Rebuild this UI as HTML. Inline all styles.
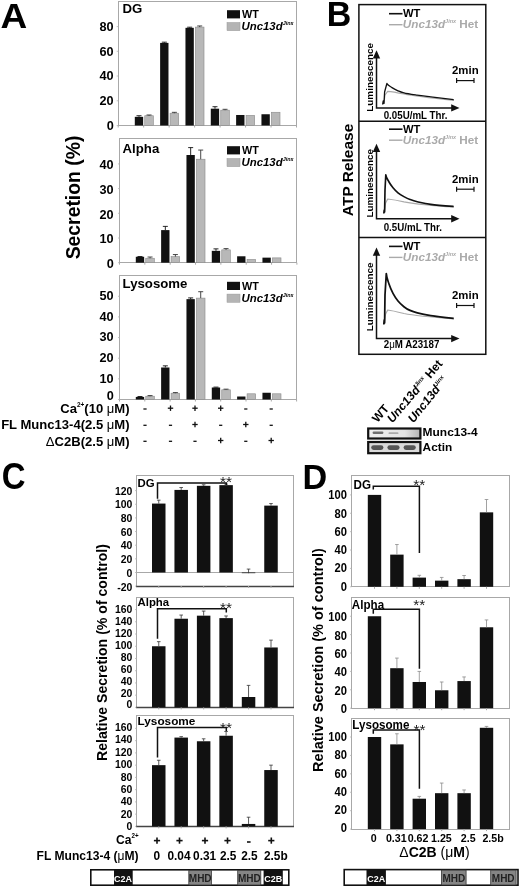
<!DOCTYPE html>
<html><head><meta charset="utf-8"><title>Figure</title>
<style>
html,body{margin:0;padding:0;background:#fff;}
body{width:520px;height:886px;overflow:hidden;font-family:"Liberation Sans",sans-serif;}
svg{display:block;filter:blur(0.45px);}
svg text{font-family:"Liberation Sans",sans-serif;}
</style></head><body>
<svg width="520" height="886" viewBox="0 0 520 886">
<rect width="520" height="886" fill="#fff"/>
<text transform="translate(0.6,28.0) scale(1.04,1)" font-size="35.6" font-weight="bold" text-anchor="start" fill="#000"  >A</text>
<text transform="translate(326.7,25.6) scale(0.95,1)" font-size="35.8" font-weight="bold" text-anchor="start" fill="#000"  >B</text>
<text transform="translate(1.7,488.9) scale(0.885,1)" font-size="37.2" font-weight="bold" text-anchor="start" fill="#000"  >C</text>
<text transform="translate(302.4,488.5) scale(0.97,1)" font-size="35.3" font-weight="bold" text-anchor="start" fill="#000"  >D</text>
<rect x="118.50" y="1.50" width="178.00" height="124.00" fill="none" stroke="#a8a8a8" stroke-width="1"/>
<line x1="116.70" y1="125.50" x2="118.20" y2="125.50" stroke="#b5b5b5" stroke-width="0.8"/>
<text x="113.7" y="129.9" font-size="12.7" font-weight="bold" text-anchor="end" fill="#000"  >0</text>
<line x1="116.70" y1="100.77" x2="118.20" y2="100.77" stroke="#b5b5b5" stroke-width="0.8"/>
<text x="113.7" y="105.17000000000002" font-size="12.7" font-weight="bold" text-anchor="end" fill="#000"  >20</text>
<line x1="116.70" y1="76.04" x2="118.20" y2="76.04" stroke="#b5b5b5" stroke-width="0.8"/>
<text x="113.7" y="80.44000000000001" font-size="12.7" font-weight="bold" text-anchor="end" fill="#000"  >40</text>
<line x1="116.70" y1="51.31" x2="118.20" y2="51.31" stroke="#b5b5b5" stroke-width="0.8"/>
<text x="113.7" y="55.71" font-size="12.7" font-weight="bold" text-anchor="end" fill="#000"  >60</text>
<line x1="116.70" y1="26.58" x2="118.20" y2="26.58" stroke="#b5b5b5" stroke-width="0.8"/>
<text x="113.7" y="30.98000000000001" font-size="12.7" font-weight="bold" text-anchor="end" fill="#000"  >80</text>
<line x1="118.20" y1="125.50" x2="118.20" y2="127.50" stroke="#a8a8a8" stroke-width="1"/>
<line x1="143.67" y1="125.50" x2="143.67" y2="127.50" stroke="#a8a8a8" stroke-width="1"/>
<line x1="169.14" y1="125.50" x2="169.14" y2="127.50" stroke="#a8a8a8" stroke-width="1"/>
<line x1="194.61" y1="125.50" x2="194.61" y2="127.50" stroke="#a8a8a8" stroke-width="1"/>
<line x1="220.09" y1="125.50" x2="220.09" y2="127.50" stroke="#a8a8a8" stroke-width="1"/>
<line x1="245.56" y1="125.50" x2="245.56" y2="127.50" stroke="#a8a8a8" stroke-width="1"/>
<line x1="271.03" y1="125.50" x2="271.03" y2="127.50" stroke="#a8a8a8" stroke-width="1"/>
<line x1="296.50" y1="125.50" x2="296.50" y2="127.50" stroke="#a8a8a8" stroke-width="1"/>
<text x="122.6" y="12.9" font-size="13.2" font-weight="bold" text-anchor="start" fill="#000"  >DG</text>
<rect x="227.00" y="10.20" width="13.00" height="8.20" fill="#111"/>
<text x="242" y="18.0" font-size="10.8" font-weight="bold" text-anchor="start" fill="#000"  >WT</text>
<rect x="227.00" y="22.50" width="13.00" height="8.20" fill="#b4b4b4" stroke="#999" stroke-width="0.5"/>
<text x="241.5" y="30.3" font-size="11.4" font-weight="bold" font-style="italic" fill="#000">Unc13d<tspan font-size="5.4" dy="-5">Jinx</tspan></text>
<rect x="134.80" y="116.84" width="8.35" height="8.66" fill="#111"/>
<line x1="139.00" y1="115.73" x2="139.00" y2="116.84" stroke="#111" stroke-width="0.9"/>
<line x1="136.50" y1="115.73" x2="141.50" y2="115.73" stroke="#111" stroke-width="0.9"/>
<rect x="144.75" y="115.73" width="8.60" height="9.77" fill="#b8b8b8" stroke="#8a8a8a" stroke-width="0.6"/>
<line x1="149.05" y1="114.99" x2="149.05" y2="115.73" stroke="#333" stroke-width="0.9"/>
<line x1="146.55" y1="114.99" x2="151.55" y2="114.99" stroke="#333" stroke-width="0.9"/>
<rect x="160.13" y="42.90" width="8.35" height="82.60" fill="#111"/>
<line x1="164.33" y1="42.16" x2="164.33" y2="42.90" stroke="#111" stroke-width="0.9"/>
<line x1="161.83" y1="42.16" x2="166.83" y2="42.16" stroke="#111" stroke-width="0.9"/>
<rect x="170.08" y="113.20" width="8.60" height="12.30" fill="#b8b8b8" stroke="#8a8a8a" stroke-width="0.6"/>
<line x1="174.38" y1="112.33" x2="174.38" y2="113.20" stroke="#333" stroke-width="0.9"/>
<line x1="171.88" y1="112.33" x2="176.88" y2="112.33" stroke="#333" stroke-width="0.9"/>
<rect x="185.46" y="27.82" width="8.35" height="97.68" fill="#111"/>
<line x1="189.66" y1="27.20" x2="189.66" y2="27.82" stroke="#111" stroke-width="0.9"/>
<line x1="187.16" y1="27.20" x2="192.16" y2="27.20" stroke="#111" stroke-width="0.9"/>
<rect x="195.41" y="27.07" width="8.60" height="98.43" fill="#b8b8b8" stroke="#8a8a8a" stroke-width="0.6"/>
<line x1="199.71" y1="25.96" x2="199.71" y2="27.07" stroke="#333" stroke-width="0.9"/>
<line x1="197.21" y1="25.96" x2="202.21" y2="25.96" stroke="#333" stroke-width="0.9"/>
<rect x="210.79" y="108.68" width="8.35" height="16.82" fill="#111"/>
<line x1="214.99" y1="106.71" x2="214.99" y2="108.68" stroke="#111" stroke-width="0.9"/>
<line x1="212.49" y1="106.71" x2="217.49" y2="106.71" stroke="#111" stroke-width="0.9"/>
<rect x="220.74" y="110.17" width="8.60" height="15.33" fill="#b8b8b8" stroke="#8a8a8a" stroke-width="0.6"/>
<line x1="225.04" y1="109.30" x2="225.04" y2="110.17" stroke="#333" stroke-width="0.9"/>
<line x1="222.54" y1="109.30" x2="227.54" y2="109.30" stroke="#333" stroke-width="0.9"/>
<rect x="236.12" y="114.99" width="8.35" height="10.51" fill="#111"/>
<rect x="246.07" y="115.30" width="8.60" height="10.20" fill="#b8b8b8" stroke="#8a8a8a" stroke-width="0.6"/>
<rect x="261.45" y="114.25" width="8.35" height="11.25" fill="#111"/>
<rect x="271.40" y="112.27" width="8.60" height="13.23" fill="#b8b8b8" stroke="#8a8a8a" stroke-width="0.6"/>
<rect x="119.50" y="138.50" width="177.00" height="124.00" fill="none" stroke="#a8a8a8" stroke-width="1"/>
<line x1="118.00" y1="262.70" x2="119.50" y2="262.70" stroke="#b5b5b5" stroke-width="0.8"/>
<text x="113.7" y="267.99999999999994" font-size="12.7" font-weight="bold" text-anchor="end" fill="#000"  >0</text>
<line x1="118.00" y1="238.00" x2="119.50" y2="238.00" stroke="#b5b5b5" stroke-width="0.8"/>
<text x="113.7" y="243.3" font-size="12.7" font-weight="bold" text-anchor="end" fill="#000"  >10</text>
<line x1="118.00" y1="213.30" x2="119.50" y2="213.30" stroke="#b5b5b5" stroke-width="0.8"/>
<text x="113.7" y="218.6" font-size="12.7" font-weight="bold" text-anchor="end" fill="#000"  >20</text>
<line x1="118.00" y1="188.60" x2="119.50" y2="188.60" stroke="#b5b5b5" stroke-width="0.8"/>
<text x="113.7" y="193.89999999999998" font-size="12.7" font-weight="bold" text-anchor="end" fill="#000"  >30</text>
<line x1="118.00" y1="163.90" x2="119.50" y2="163.90" stroke="#b5b5b5" stroke-width="0.8"/>
<text x="113.7" y="169.2" font-size="12.7" font-weight="bold" text-anchor="end" fill="#000"  >40</text>
<line x1="119.50" y1="262.70" x2="119.50" y2="264.70" stroke="#a8a8a8" stroke-width="1"/>
<line x1="144.84" y1="262.70" x2="144.84" y2="264.70" stroke="#a8a8a8" stroke-width="1"/>
<line x1="170.19" y1="262.70" x2="170.19" y2="264.70" stroke="#a8a8a8" stroke-width="1"/>
<line x1="195.53" y1="262.70" x2="195.53" y2="264.70" stroke="#a8a8a8" stroke-width="1"/>
<line x1="220.87" y1="262.70" x2="220.87" y2="264.70" stroke="#a8a8a8" stroke-width="1"/>
<line x1="246.21" y1="262.70" x2="246.21" y2="264.70" stroke="#a8a8a8" stroke-width="1"/>
<line x1="271.56" y1="262.70" x2="271.56" y2="264.70" stroke="#a8a8a8" stroke-width="1"/>
<line x1="296.90" y1="262.70" x2="296.90" y2="264.70" stroke="#a8a8a8" stroke-width="1"/>
<text x="122.6" y="152.7" font-size="13.2" font-weight="bold" text-anchor="start" fill="#000"  >Alpha</text>
<rect x="227.00" y="146.20" width="13.00" height="8.20" fill="#111"/>
<text x="242" y="154.0" font-size="10.8" font-weight="bold" text-anchor="start" fill="#000"  >WT</text>
<rect x="227.00" y="158.50" width="13.00" height="8.20" fill="#b4b4b4" stroke="#999" stroke-width="0.5"/>
<text x="241.5" y="166.29999999999998" font-size="11.4" font-weight="bold" font-style="italic" fill="#000">Unc13d<tspan font-size="5.4" dy="-5">Jinx</tspan></text>
<rect x="135.80" y="256.77" width="8.35" height="5.93" fill="#111"/>
<line x1="140.00" y1="256.52" x2="140.00" y2="256.77" stroke="#111" stroke-width="0.9"/>
<line x1="137.50" y1="256.52" x2="142.50" y2="256.52" stroke="#111" stroke-width="0.9"/>
<rect x="145.75" y="258.25" width="8.60" height="4.45" fill="#b8b8b8" stroke="#8a8a8a" stroke-width="0.6"/>
<line x1="150.05" y1="257.02" x2="150.05" y2="258.25" stroke="#333" stroke-width="0.9"/>
<line x1="147.55" y1="257.02" x2="152.55" y2="257.02" stroke="#333" stroke-width="0.9"/>
<rect x="161.13" y="230.10" width="8.35" height="32.60" fill="#111"/>
<line x1="165.33" y1="226.39" x2="165.33" y2="230.10" stroke="#111" stroke-width="0.9"/>
<line x1="162.83" y1="226.39" x2="167.83" y2="226.39" stroke="#111" stroke-width="0.9"/>
<rect x="171.08" y="256.65" width="8.60" height="6.05" fill="#b8b8b8" stroke="#8a8a8a" stroke-width="0.6"/>
<line x1="175.38" y1="254.55" x2="175.38" y2="256.65" stroke="#333" stroke-width="0.9"/>
<line x1="172.88" y1="254.55" x2="177.88" y2="254.55" stroke="#333" stroke-width="0.9"/>
<rect x="186.46" y="155.01" width="8.35" height="107.69" fill="#111"/>
<line x1="190.66" y1="147.60" x2="190.66" y2="155.01" stroke="#111" stroke-width="0.9"/>
<line x1="188.16" y1="147.60" x2="193.16" y2="147.60" stroke="#111" stroke-width="0.9"/>
<rect x="196.41" y="159.21" width="8.60" height="103.49" fill="#b8b8b8" stroke="#8a8a8a" stroke-width="0.6"/>
<line x1="200.71" y1="150.07" x2="200.71" y2="159.21" stroke="#333" stroke-width="0.9"/>
<line x1="198.21" y1="150.07" x2="203.21" y2="150.07" stroke="#333" stroke-width="0.9"/>
<rect x="211.79" y="250.84" width="8.35" height="11.86" fill="#111"/>
<line x1="215.99" y1="248.87" x2="215.99" y2="250.84" stroke="#111" stroke-width="0.9"/>
<line x1="213.49" y1="248.87" x2="218.49" y2="248.87" stroke="#111" stroke-width="0.9"/>
<rect x="221.74" y="249.86" width="8.60" height="12.84" fill="#b8b8b8" stroke="#8a8a8a" stroke-width="0.6"/>
<line x1="226.04" y1="248.62" x2="226.04" y2="249.86" stroke="#333" stroke-width="0.9"/>
<line x1="223.54" y1="248.62" x2="228.54" y2="248.62" stroke="#333" stroke-width="0.9"/>
<rect x="237.12" y="256.28" width="8.35" height="6.42" fill="#111"/>
<rect x="247.07" y="259.49" width="8.60" height="3.21" fill="#b8b8b8" stroke="#8a8a8a" stroke-width="0.6"/>
<rect x="262.45" y="257.64" width="8.35" height="5.06" fill="#111"/>
<rect x="272.40" y="257.88" width="8.60" height="4.82" fill="#b8b8b8" stroke="#8a8a8a" stroke-width="0.6"/>
<rect x="119.50" y="275.50" width="177.00" height="124.00" fill="none" stroke="#a8a8a8" stroke-width="1"/>
<line x1="118.00" y1="399.50" x2="119.50" y2="399.50" stroke="#b5b5b5" stroke-width="0.8"/>
<text x="113.7" y="399.79999999999995" font-size="12.7" font-weight="bold" text-anchor="end" fill="#000"  >0</text>
<line x1="118.00" y1="378.85" x2="119.50" y2="378.85" stroke="#b5b5b5" stroke-width="0.8"/>
<text x="113.7" y="382.75" font-size="12.7" font-weight="bold" text-anchor="end" fill="#000"  >10</text>
<line x1="118.00" y1="358.20" x2="119.50" y2="358.20" stroke="#b5b5b5" stroke-width="0.8"/>
<text x="113.7" y="362.09999999999997" font-size="12.7" font-weight="bold" text-anchor="end" fill="#000"  >20</text>
<line x1="118.00" y1="337.55" x2="119.50" y2="337.55" stroke="#b5b5b5" stroke-width="0.8"/>
<text x="113.7" y="341.45" font-size="12.7" font-weight="bold" text-anchor="end" fill="#000"  >30</text>
<line x1="118.00" y1="316.90" x2="119.50" y2="316.90" stroke="#b5b5b5" stroke-width="0.8"/>
<text x="113.7" y="320.79999999999995" font-size="12.7" font-weight="bold" text-anchor="end" fill="#000"  >40</text>
<line x1="118.00" y1="296.25" x2="119.50" y2="296.25" stroke="#b5b5b5" stroke-width="0.8"/>
<text x="113.7" y="300.15" font-size="12.7" font-weight="bold" text-anchor="end" fill="#000"  >50</text>
<line x1="119.50" y1="399.50" x2="119.50" y2="401.50" stroke="#a8a8a8" stroke-width="1"/>
<line x1="144.80" y1="399.50" x2="144.80" y2="401.50" stroke="#a8a8a8" stroke-width="1"/>
<line x1="170.10" y1="399.50" x2="170.10" y2="401.50" stroke="#a8a8a8" stroke-width="1"/>
<line x1="195.40" y1="399.50" x2="195.40" y2="401.50" stroke="#a8a8a8" stroke-width="1"/>
<line x1="220.70" y1="399.50" x2="220.70" y2="401.50" stroke="#a8a8a8" stroke-width="1"/>
<line x1="246.00" y1="399.50" x2="246.00" y2="401.50" stroke="#a8a8a8" stroke-width="1"/>
<line x1="271.30" y1="399.50" x2="271.30" y2="401.50" stroke="#a8a8a8" stroke-width="1"/>
<line x1="296.60" y1="399.50" x2="296.60" y2="401.50" stroke="#a8a8a8" stroke-width="1"/>
<text x="122.6" y="287.7" font-size="13.2" font-weight="bold" text-anchor="start" fill="#000"  >Lysosome</text>
<rect x="227.00" y="281.80" width="13.00" height="8.20" fill="#111"/>
<text x="242" y="289.6" font-size="10.8" font-weight="bold" text-anchor="start" fill="#000"  >WT</text>
<rect x="227.00" y="294.10" width="13.00" height="8.20" fill="#b4b4b4" stroke="#999" stroke-width="0.5"/>
<text x="241.5" y="301.90000000000003" font-size="11.4" font-weight="bold" font-style="italic" fill="#000">Unc13d<tspan font-size="5.4" dy="-5">Jinx</tspan></text>
<rect x="135.80" y="396.92" width="8.35" height="2.58" fill="#111"/>
<line x1="140.00" y1="396.51" x2="140.00" y2="396.92" stroke="#111" stroke-width="0.9"/>
<line x1="137.50" y1="396.51" x2="142.50" y2="396.51" stroke="#111" stroke-width="0.9"/>
<rect x="145.75" y="396.20" width="8.60" height="3.30" fill="#b8b8b8" stroke="#8a8a8a" stroke-width="0.6"/>
<line x1="150.05" y1="395.58" x2="150.05" y2="396.20" stroke="#333" stroke-width="0.9"/>
<line x1="147.55" y1="395.58" x2="152.55" y2="395.58" stroke="#333" stroke-width="0.9"/>
<rect x="161.13" y="367.49" width="8.35" height="32.01" fill="#111"/>
<line x1="165.33" y1="365.84" x2="165.33" y2="367.49" stroke="#111" stroke-width="0.9"/>
<line x1="162.83" y1="365.84" x2="167.83" y2="365.84" stroke="#111" stroke-width="0.9"/>
<rect x="171.08" y="393.20" width="8.60" height="6.30" fill="#b8b8b8" stroke="#8a8a8a" stroke-width="0.6"/>
<line x1="175.38" y1="392.58" x2="175.38" y2="393.20" stroke="#333" stroke-width="0.9"/>
<line x1="172.88" y1="392.58" x2="177.88" y2="392.58" stroke="#333" stroke-width="0.9"/>
<rect x="186.46" y="299.14" width="8.35" height="100.36" fill="#111"/>
<line x1="190.66" y1="297.90" x2="190.66" y2="299.14" stroke="#111" stroke-width="0.9"/>
<line x1="188.16" y1="297.90" x2="193.16" y2="297.90" stroke="#111" stroke-width="0.9"/>
<rect x="196.41" y="298.11" width="8.60" height="101.39" fill="#b8b8b8" stroke="#8a8a8a" stroke-width="0.6"/>
<line x1="200.71" y1="291.71" x2="200.71" y2="298.11" stroke="#333" stroke-width="0.9"/>
<line x1="198.21" y1="291.71" x2="203.21" y2="291.71" stroke="#333" stroke-width="0.9"/>
<rect x="211.79" y="387.52" width="8.35" height="11.98" fill="#111"/>
<line x1="215.99" y1="387.11" x2="215.99" y2="387.52" stroke="#111" stroke-width="0.9"/>
<line x1="213.49" y1="387.11" x2="218.49" y2="387.11" stroke="#111" stroke-width="0.9"/>
<rect x="221.74" y="389.79" width="8.60" height="9.71" fill="#b8b8b8" stroke="#8a8a8a" stroke-width="0.6"/>
<line x1="226.04" y1="389.17" x2="226.04" y2="389.79" stroke="#333" stroke-width="0.9"/>
<line x1="223.54" y1="389.17" x2="228.54" y2="389.17" stroke="#333" stroke-width="0.9"/>
<rect x="237.12" y="396.51" width="8.35" height="2.99" fill="#111"/>
<rect x="247.07" y="393.80" width="8.60" height="5.70" fill="#b8b8b8" stroke="#8a8a8a" stroke-width="0.6"/>
<rect x="262.45" y="392.75" width="8.35" height="6.75" fill="#111"/>
<rect x="272.40" y="393.80" width="8.60" height="5.70" fill="#b8b8b8" stroke="#8a8a8a" stroke-width="0.6"/>
<text transform="translate(79.8,197.5) rotate(-90) scale(0.95,1)" font-size="20.4" font-weight="bold" text-anchor="middle" fill="#000" >Secretion (%)</text>
<text transform="translate(129.6,412.9) scale(0.99,1)" font-size="13.2" font-weight="bold" text-anchor="end" fill="#000"  >Ca<tspan font-size="6.5" dy="-5.5">2+</tspan><tspan dy="5.5">(10 <tspan font-weight="normal">&#956;</tspan>M)</tspan></text>
<text transform="translate(129.6,429.3) scale(0.99,1)" font-size="13.2" font-weight="bold" text-anchor="end" fill="#000"  >FL Munc13-4(2.5 <tspan font-weight="normal">&#956;</tspan>M)</text>
<text transform="translate(129.6,445.8) scale(0.99,1)" font-size="13.2" font-weight="bold" text-anchor="end" fill="#000"  ><tspan font-weight="normal">&#916;</tspan>C2B(2.5 <tspan font-weight="normal">&#956;</tspan>M)</text>
<line x1="143.40" y1="409.00" x2="146.60" y2="409.00" stroke="#111" stroke-width="1.3"/>
<line x1="167.80" y1="408.20" x2="173.20" y2="408.20" stroke="#111" stroke-width="1.3"/>
<line x1="170.50" y1="405.50" x2="170.50" y2="410.90" stroke="#111" stroke-width="1.3"/>
<line x1="192.30" y1="408.20" x2="197.70" y2="408.20" stroke="#111" stroke-width="1.3"/>
<line x1="195.00" y1="405.50" x2="195.00" y2="410.90" stroke="#111" stroke-width="1.3"/>
<line x1="218.00" y1="408.20" x2="223.40" y2="408.20" stroke="#111" stroke-width="1.3"/>
<line x1="220.70" y1="405.50" x2="220.70" y2="410.90" stroke="#111" stroke-width="1.3"/>
<line x1="244.20" y1="409.00" x2="247.40" y2="409.00" stroke="#111" stroke-width="1.3"/>
<line x1="269.60" y1="409.00" x2="272.80" y2="409.00" stroke="#111" stroke-width="1.3"/>
<line x1="143.40" y1="425.30" x2="146.60" y2="425.30" stroke="#111" stroke-width="1.3"/>
<line x1="168.90" y1="425.30" x2="172.10" y2="425.30" stroke="#111" stroke-width="1.3"/>
<line x1="192.30" y1="424.50" x2="197.70" y2="424.50" stroke="#111" stroke-width="1.3"/>
<line x1="195.00" y1="421.80" x2="195.00" y2="427.20" stroke="#111" stroke-width="1.3"/>
<line x1="219.10" y1="425.30" x2="222.30" y2="425.30" stroke="#111" stroke-width="1.3"/>
<line x1="243.10" y1="424.50" x2="248.50" y2="424.50" stroke="#111" stroke-width="1.3"/>
<line x1="245.80" y1="421.80" x2="245.80" y2="427.20" stroke="#111" stroke-width="1.3"/>
<line x1="269.60" y1="425.30" x2="272.80" y2="425.30" stroke="#111" stroke-width="1.3"/>
<line x1="143.40" y1="441.30" x2="146.60" y2="441.30" stroke="#111" stroke-width="1.3"/>
<line x1="168.90" y1="441.30" x2="172.10" y2="441.30" stroke="#111" stroke-width="1.3"/>
<line x1="193.40" y1="441.30" x2="196.60" y2="441.30" stroke="#111" stroke-width="1.3"/>
<line x1="218.00" y1="440.50" x2="223.40" y2="440.50" stroke="#111" stroke-width="1.3"/>
<line x1="220.70" y1="437.80" x2="220.70" y2="443.20" stroke="#111" stroke-width="1.3"/>
<line x1="244.20" y1="441.30" x2="247.40" y2="441.30" stroke="#111" stroke-width="1.3"/>
<line x1="268.50" y1="440.50" x2="273.90" y2="440.50" stroke="#111" stroke-width="1.3"/>
<line x1="271.20" y1="437.80" x2="271.20" y2="443.20" stroke="#111" stroke-width="1.3"/>
<rect x="358.90" y="4.60" width="126.90" height="349.70" fill="none" stroke="#111" stroke-width="1.5"/>
<line x1="358.90" y1="121.20" x2="485.80" y2="121.20" stroke="#111" stroke-width="1.5"/>
<line x1="358.90" y1="237.40" x2="485.80" y2="237.40" stroke="#111" stroke-width="1.5"/>
<text transform="translate(352.9,169.9) rotate(-90) scale(1,1)" font-size="15.5" font-weight="bold" text-anchor="middle" fill="#000" >ATP Release</text>
<line x1="389.00" y1="13.70" x2="402.50" y2="13.70" stroke="#111" stroke-width="1.6"/>
<text transform="translate(403,17.099999999999998) scale(1.04,1)" font-size="10.8" font-weight="bold" text-anchor="start" fill="#000"  >WT</text>
<line x1="389.00" y1="24.70" x2="402.50" y2="24.70" stroke="#aaaaaa" stroke-width="1.4"/>
<text transform="translate(402.8,28.1) scale(1.105,1)" font-size="10.6" font-weight="bold" font-style="italic" fill="#aaaaaa">Unc13d<tspan font-size="5" dy="-5">Jinx</tspan><tspan dy="5" font-style="normal"> Het</tspan></text>
<path d="M376.5 56 V107.9 H453" fill="none" stroke="#111" stroke-width="1.5"/>
<path d="M376.5 50.2 l-3.7 8.3 h7.4 z" fill="#111"/>
<path d="M459.5 107.9 l-8.3 -3.7 v7.4 z" fill="#111"/>
<text transform="translate(372.6,77.4) rotate(-90) scale(1,1)" font-size="9.9" font-weight="bold" text-anchor="middle" fill="#000" >Luminescence</text>
<text transform="translate(383.7,118.5) scale(0.92,1)" font-size="10.6" font-weight="bold" text-anchor="start" fill="#000"  >0.05U/mL Thr.</text>
<text x="465.3" y="74.10000000000001" font-size="11.4" font-weight="bold" text-anchor="middle" fill="#000"  >2min</text>
<line x1="456.60" y1="80.60" x2="474.00" y2="80.60" stroke="#111" stroke-width="1.2"/>
<line x1="456.60" y1="78.10" x2="456.60" y2="83.10" stroke="#111" stroke-width="1.2"/>
<line x1="474.00" y1="78.10" x2="474.00" y2="83.10" stroke="#111" stroke-width="1.2"/>
<path d="M383.5 104 L384.2 101 L385 95 L387.7 91.3 C391 91.5 397 92.5 404 94 C415 96.5 435 98.5 454 100.4" fill="none" stroke="#aaaaaa" stroke-width="1.2" stroke-linejoin="round"/>
<path d="M382.6 104.5 L383.2 101 L384 103.5 L384.6 92 L386.9 83.5 C387.7 85.3 390.2 86.4 392 87.6 C393.8 88.8 395.5 89.7 397.5 90.6 C399.5 91.5 400.6 92.1 403.9 92.9 C407.1 93.7 412.5 94.5 417 95.2 C421.5 95.9 424.7 96.2 430.8 96.9 C436.9 97.6 449.9 99.1 453.7 99.6 " fill="none" stroke="#111" stroke-width="1.3" stroke-linejoin="round"/>
<line x1="389.00" y1="129.20" x2="402.50" y2="129.20" stroke="#111" stroke-width="1.6"/>
<text transform="translate(403,132.6) scale(1.04,1)" font-size="10.8" font-weight="bold" text-anchor="start" fill="#000"  >WT</text>
<line x1="389.00" y1="140.20" x2="402.50" y2="140.20" stroke="#aaaaaa" stroke-width="1.4"/>
<text transform="translate(402.8,143.6) scale(1.105,1)" font-size="10.6" font-weight="bold" font-style="italic" fill="#aaaaaa">Unc13d<tspan font-size="5" dy="-5">Jinx</tspan><tspan dy="5" font-style="normal"> Het</tspan></text>
<path d="M376.5 149.6 V218.7 H453" fill="none" stroke="#111" stroke-width="1.5"/>
<path d="M376.5 143.79999999999998 l-3.7 8.3 h7.4 z" fill="#111"/>
<path d="M459.5 218.7 l-8.3 -3.7 v7.4 z" fill="#111"/>
<text transform="translate(372.6,183.2) rotate(-90) scale(1,1)" font-size="9.9" font-weight="bold" text-anchor="middle" fill="#000" >Luminescence</text>
<text transform="translate(383.7,230.8) scale(0.92,1)" font-size="10.6" font-weight="bold" text-anchor="start" fill="#000"  >0.5U/mL Thr.</text>
<text x="465.3" y="182.70000000000002" font-size="11.4" font-weight="bold" text-anchor="middle" fill="#000"  >2min</text>
<line x1="456.60" y1="189.20" x2="474.00" y2="189.20" stroke="#111" stroke-width="1.2"/>
<line x1="456.60" y1="186.70" x2="456.60" y2="191.70" stroke="#111" stroke-width="1.2"/>
<line x1="474.00" y1="186.70" x2="474.00" y2="191.70" stroke="#111" stroke-width="1.2"/>
<path d="M384.2 213 L384.8 209 L385.6 203 L387.7 199 C392 199.5 398 200.5 404 201.8 C412 203.3 430 205.5 454 207" fill="none" stroke="#aaaaaa" stroke-width="1.2" stroke-linejoin="round"/>
<path d="M383.8 213.5 L384.2 210 L384.6 212 L385 190 L385.8 174.8 C386.3 178.0 387.8 179.8 389 182 C390.2 184.2 391.5 185.9 393 187.7 C394.5 189.5 396.2 191.3 398 192.8 C399.8 194.3 401.9 195.5 403.9 196.6 C405.9 197.7 407.8 198.7 410 199.5 C412.2 200.3 413.8 200.9 417.3 201.7 C420.8 202.5 424.7 203.6 430.8 204.4 C436.9 205.2 449.9 206.2 453.7 206.5 " fill="none" stroke="#111" stroke-width="1.65" stroke-linejoin="round"/>
<line x1="389.00" y1="246.40" x2="402.50" y2="246.40" stroke="#111" stroke-width="1.6"/>
<text transform="translate(403,249.8) scale(1.04,1)" font-size="10.8" font-weight="bold" text-anchor="start" fill="#000"  >WT</text>
<line x1="389.00" y1="257.40" x2="402.50" y2="257.40" stroke="#aaaaaa" stroke-width="1.4"/>
<text transform="translate(402.8,260.8) scale(1.105,1)" font-size="10.6" font-weight="bold" font-style="italic" fill="#aaaaaa">Unc13d<tspan font-size="5" dy="-5">Jinx</tspan><tspan dy="5" font-style="normal"> Het</tspan></text>
<path d="M376.5 253.2 V338.6 H453" fill="none" stroke="#111" stroke-width="1.5"/>
<path d="M376.5 247.39999999999998 l-3.7 8.3 h7.4 z" fill="#111"/>
<path d="M459.5 338.6 l-8.3 -3.7 v7.4 z" fill="#111"/>
<text transform="translate(372.6,296.9) rotate(-90) scale(1,1)" font-size="9.9" font-weight="bold" text-anchor="middle" fill="#000" >Luminescence</text>
<text transform="translate(383.7,347.9) scale(0.92,1)" font-size="10.6" font-weight="bold" text-anchor="start" fill="#000"  >2<tspan font-weight="normal">&#956;</tspan>M A23187</text>
<text x="465.3" y="299.0" font-size="11.4" font-weight="bold" text-anchor="middle" fill="#000"  >2min</text>
<line x1="456.60" y1="305.50" x2="474.00" y2="305.50" stroke="#111" stroke-width="1.2"/>
<line x1="456.60" y1="303.00" x2="456.60" y2="308.00" stroke="#111" stroke-width="1.2"/>
<line x1="474.00" y1="303.00" x2="474.00" y2="308.00" stroke="#111" stroke-width="1.2"/>
<path d="M384.2 324 L384.8 320 L385.6 314 L387.7 310 C392 310.5 398 312 404 313.5 C412 315.2 428 317 454 318.8" fill="none" stroke="#aaaaaa" stroke-width="1.2" stroke-linejoin="round"/>
<path d="M383.8 324.5 L384.2 320 L384.6 323 L385 295 L386.3 273.6 C386.7 278.3 387.9 280.7 389 284 C390.1 287.3 391.5 290.5 393 293.3 C394.5 296.1 396.2 298.8 398 301 C399.8 303.2 401.9 305.1 403.9 306.7 C405.9 308.3 407.8 309.4 410 310.4 C412.2 311.4 413.8 312.0 417.3 312.9 C420.8 313.8 424.7 314.7 430.8 315.6 C436.9 316.5 449.9 317.9 453.7 318.3 " fill="none" stroke="#111" stroke-width="1.75" stroke-linejoin="round"/>
<text transform="translate(377.6,423.2) rotate(-50)" font-size="12" font-weight="bold">WT</text>
<text transform="translate(392.4,423.6) rotate(-49.6)" font-size="12.1" font-weight="bold"><tspan font-style="italic">Unc13d<tspan font-size="5.8" dy="-5">Jinx</tspan></tspan><tspan dy="5"> Het</tspan></text>
<text transform="translate(413.4,423.6) rotate(-51.3)" font-size="12.1" font-weight="bold"><tspan font-style="italic">Unc13d<tspan font-size="5.8" dy="-5">Jinx</tspan></tspan></text>
<defs><linearGradient id="bg1" x1="0" x2="1" y1="0" y2="0"><stop offset="0" stop-color="#ededed"/><stop offset="0.7" stop-color="#e4e4e4"/><stop offset="1" stop-color="#b4b4b4"/></linearGradient></defs>
<rect x="368.20" y="428.50" width="52.20" height="10.00" fill="url(#bg1)" stroke="#111" stroke-width="2.2"/>
<rect x="372.6" y="431.6" width="10.8" height="2.4" rx="1.2" fill="#6e6e6e"/>
<rect x="388.5" y="432.3" width="10" height="1.8" rx="0.9" fill="#aaaaaa"/>
<rect x="368.20" y="442.00" width="52.20" height="11.20" fill="#dadada" stroke="#111" stroke-width="2.2"/>
<rect x="371.2" y="445.2" width="12.2" height="4.8" rx="2.4" fill="#555"/>
<rect x="387.4" y="445.2" width="12.2" height="4.8" rx="2.4" fill="#555"/>
<rect x="403.6" y="445.2" width="12.2" height="4.8" rx="2.4" fill="#555"/>
<text transform="translate(422.6,436.2) scale(1.03,1)" font-size="11.6" font-weight="bold" text-anchor="start" fill="#000"  >Munc13-4</text>
<text transform="translate(422.6,451) scale(1.02,1)" font-size="11.6" font-weight="bold" text-anchor="start" fill="#000"  >Actin</text>
<rect x="136.50" y="475.50" width="157.00" height="111.00" fill="none" stroke="#a8a8a8" stroke-width="1"/>
<line x1="136.00" y1="586.50" x2="294.00" y2="586.50" stroke="#444" stroke-width="1.3"/>
<line x1="136.50" y1="572.50" x2="293.00" y2="572.50" stroke="#a8a8a8" stroke-width="1"/>
<line x1="135.00" y1="586.15" x2="136.50" y2="586.15" stroke="#b5b5b5" stroke-width="0.8"/>
<text transform="translate(132.4,590.662) scale(0.93,1)" font-size="11.2" font-weight="bold" text-anchor="end" fill="#000"  >-20</text>
<line x1="135.00" y1="572.50" x2="136.50" y2="572.50" stroke="#b5b5b5" stroke-width="0.8"/>
<text transform="translate(132.4,576.932) scale(0.93,1)" font-size="11.2" font-weight="bold" text-anchor="end" fill="#000"  >0</text>
<line x1="135.00" y1="558.85" x2="136.50" y2="558.85" stroke="#b5b5b5" stroke-width="0.8"/>
<text transform="translate(132.4,563.202) scale(0.93,1)" font-size="11.2" font-weight="bold" text-anchor="end" fill="#000"  >20</text>
<line x1="135.00" y1="545.20" x2="136.50" y2="545.20" stroke="#b5b5b5" stroke-width="0.8"/>
<text transform="translate(132.4,549.472) scale(0.93,1)" font-size="11.2" font-weight="bold" text-anchor="end" fill="#000"  >40</text>
<line x1="135.00" y1="531.55" x2="136.50" y2="531.55" stroke="#b5b5b5" stroke-width="0.8"/>
<text transform="translate(132.4,535.7420000000001) scale(0.93,1)" font-size="11.2" font-weight="bold" text-anchor="end" fill="#000"  >60</text>
<line x1="135.00" y1="517.90" x2="136.50" y2="517.90" stroke="#b5b5b5" stroke-width="0.8"/>
<text transform="translate(132.4,522.0120000000001) scale(0.93,1)" font-size="11.2" font-weight="bold" text-anchor="end" fill="#000"  >80</text>
<line x1="135.00" y1="504.25" x2="136.50" y2="504.25" stroke="#b5b5b5" stroke-width="0.8"/>
<text transform="translate(132.4,508.282) scale(0.93,1)" font-size="11.2" font-weight="bold" text-anchor="end" fill="#000"  >100</text>
<line x1="135.00" y1="490.60" x2="136.50" y2="490.60" stroke="#b5b5b5" stroke-width="0.8"/>
<text transform="translate(132.4,494.55199999999996) scale(0.93,1)" font-size="11.2" font-weight="bold" text-anchor="end" fill="#000"  >120</text>
<rect x="152.00" y="503.57" width="13.50" height="68.93" fill="#111"/>
<line x1="158.75" y1="500.15" x2="158.75" y2="503.57" stroke="#333" stroke-width="0.8"/>
<line x1="156.95" y1="500.15" x2="160.55" y2="500.15" stroke="#333" stroke-width="0.8"/>
<line x1="158.75" y1="586.00" x2="158.75" y2="588.00" stroke="#a8a8a8" stroke-width="1"/>
<rect x="174.45" y="489.92" width="13.50" height="82.58" fill="#111"/>
<line x1="181.20" y1="487.53" x2="181.20" y2="489.92" stroke="#333" stroke-width="0.8"/>
<line x1="179.40" y1="487.53" x2="183.00" y2="487.53" stroke="#333" stroke-width="0.8"/>
<line x1="181.20" y1="586.00" x2="181.20" y2="588.00" stroke="#a8a8a8" stroke-width="1"/>
<rect x="196.90" y="485.82" width="13.50" height="86.68" fill="#111"/>
<line x1="203.65" y1="484.80" x2="203.65" y2="485.82" stroke="#333" stroke-width="0.8"/>
<line x1="201.85" y1="484.80" x2="205.45" y2="484.80" stroke="#333" stroke-width="0.8"/>
<line x1="203.65" y1="586.00" x2="203.65" y2="588.00" stroke="#a8a8a8" stroke-width="1"/>
<rect x="219.35" y="485.14" width="13.50" height="87.36" fill="#111"/>
<line x1="226.10" y1="484.12" x2="226.10" y2="485.14" stroke="#333" stroke-width="0.8"/>
<line x1="224.30" y1="484.12" x2="227.90" y2="484.12" stroke="#333" stroke-width="0.8"/>
<line x1="226.10" y1="586.00" x2="226.10" y2="588.00" stroke="#a8a8a8" stroke-width="1"/>
<rect x="241.80" y="572.50" width="13.50" height="0.68" fill="#111"/>
<line x1="248.55" y1="569.09" x2="248.55" y2="573.18" stroke="#333" stroke-width="0.8"/>
<line x1="246.75" y1="569.09" x2="250.35" y2="569.09" stroke="#333" stroke-width="0.8"/>
<line x1="248.55" y1="586.00" x2="248.55" y2="588.00" stroke="#a8a8a8" stroke-width="1"/>
<rect x="264.25" y="505.62" width="13.50" height="66.88" fill="#111"/>
<line x1="271.00" y1="503.57" x2="271.00" y2="505.62" stroke="#333" stroke-width="0.8"/>
<line x1="269.20" y1="503.57" x2="272.80" y2="503.57" stroke="#333" stroke-width="0.8"/>
<line x1="271.00" y1="586.00" x2="271.00" y2="588.00" stroke="#a8a8a8" stroke-width="1"/>
<text x="137.5" y="487" font-size="11.4" font-weight="bold" text-anchor="start" fill="#000"  >DG</text>
<path d="M157.5 498.7 V483 H226.3 V485" fill="none" stroke="#111" stroke-width="1.5"/>
<text x="226" y="487.3" font-size="15.4" font-weight="normal" text-anchor="middle" fill="#1a1a1a"  >**</text>
<rect x="136.50" y="597.50" width="157.00" height="110.00" fill="none" stroke="#a8a8a8" stroke-width="1"/>
<line x1="136.00" y1="707.50" x2="294.00" y2="707.50" stroke="#444" stroke-width="1.3"/>
<line x1="135.00" y1="707.40" x2="136.50" y2="707.40" stroke="#b5b5b5" stroke-width="0.8"/>
<text transform="translate(132.4,708.432) scale(0.93,1)" font-size="11.2" font-weight="bold" text-anchor="end" fill="#000"  >0</text>
<line x1="135.00" y1="695.17" x2="136.50" y2="695.17" stroke="#b5b5b5" stroke-width="0.8"/>
<text transform="translate(132.4,696.544) scale(0.93,1)" font-size="11.2" font-weight="bold" text-anchor="end" fill="#000"  >20</text>
<line x1="135.00" y1="682.94" x2="136.50" y2="682.94" stroke="#b5b5b5" stroke-width="0.8"/>
<text transform="translate(132.4,684.6560000000001) scale(0.93,1)" font-size="11.2" font-weight="bold" text-anchor="end" fill="#000"  >40</text>
<line x1="135.00" y1="670.71" x2="136.50" y2="670.71" stroke="#b5b5b5" stroke-width="0.8"/>
<text transform="translate(132.4,672.768) scale(0.93,1)" font-size="11.2" font-weight="bold" text-anchor="end" fill="#000"  >60</text>
<line x1="135.00" y1="658.48" x2="136.50" y2="658.48" stroke="#b5b5b5" stroke-width="0.8"/>
<text transform="translate(132.4,660.88) scale(0.93,1)" font-size="11.2" font-weight="bold" text-anchor="end" fill="#000"  >80</text>
<line x1="135.00" y1="646.25" x2="136.50" y2="646.25" stroke="#b5b5b5" stroke-width="0.8"/>
<text transform="translate(132.4,648.992) scale(0.93,1)" font-size="11.2" font-weight="bold" text-anchor="end" fill="#000"  >100</text>
<line x1="135.00" y1="634.02" x2="136.50" y2="634.02" stroke="#b5b5b5" stroke-width="0.8"/>
<text transform="translate(132.4,637.104) scale(0.93,1)" font-size="11.2" font-weight="bold" text-anchor="end" fill="#000"  >120</text>
<line x1="135.00" y1="621.79" x2="136.50" y2="621.79" stroke="#b5b5b5" stroke-width="0.8"/>
<text transform="translate(132.4,625.216) scale(0.93,1)" font-size="11.2" font-weight="bold" text-anchor="end" fill="#000"  >140</text>
<line x1="135.00" y1="609.56" x2="136.50" y2="609.56" stroke="#b5b5b5" stroke-width="0.8"/>
<text transform="translate(132.4,613.328) scale(0.93,1)" font-size="11.2" font-weight="bold" text-anchor="end" fill="#000"  >160</text>
<rect x="152.00" y="646.25" width="13.50" height="61.15" fill="#111"/>
<line x1="158.75" y1="641.66" x2="158.75" y2="646.25" stroke="#333" stroke-width="0.8"/>
<line x1="156.95" y1="641.66" x2="160.55" y2="641.66" stroke="#333" stroke-width="0.8"/>
<line x1="158.75" y1="707.40" x2="158.75" y2="709.40" stroke="#a8a8a8" stroke-width="1"/>
<rect x="174.45" y="618.73" width="13.50" height="88.67" fill="#111"/>
<line x1="181.20" y1="615.06" x2="181.20" y2="618.73" stroke="#333" stroke-width="0.8"/>
<line x1="179.40" y1="615.06" x2="183.00" y2="615.06" stroke="#333" stroke-width="0.8"/>
<line x1="181.20" y1="707.40" x2="181.20" y2="709.40" stroke="#a8a8a8" stroke-width="1"/>
<rect x="196.90" y="615.67" width="13.50" height="91.73" fill="#111"/>
<line x1="203.65" y1="611.09" x2="203.65" y2="615.67" stroke="#333" stroke-width="0.8"/>
<line x1="201.85" y1="611.09" x2="205.45" y2="611.09" stroke="#333" stroke-width="0.8"/>
<line x1="203.65" y1="707.40" x2="203.65" y2="709.40" stroke="#a8a8a8" stroke-width="1"/>
<rect x="219.35" y="618.12" width="13.50" height="89.28" fill="#111"/>
<line x1="226.10" y1="615.98" x2="226.10" y2="618.12" stroke="#333" stroke-width="0.8"/>
<line x1="224.30" y1="615.98" x2="227.90" y2="615.98" stroke="#333" stroke-width="0.8"/>
<line x1="226.10" y1="707.40" x2="226.10" y2="709.40" stroke="#a8a8a8" stroke-width="1"/>
<rect x="241.80" y="697.00" width="13.50" height="10.40" fill="#111"/>
<line x1="248.55" y1="685.39" x2="248.55" y2="697.00" stroke="#333" stroke-width="0.8"/>
<line x1="246.75" y1="685.39" x2="250.35" y2="685.39" stroke="#333" stroke-width="0.8"/>
<line x1="248.55" y1="707.40" x2="248.55" y2="709.40" stroke="#a8a8a8" stroke-width="1"/>
<rect x="264.25" y="647.47" width="13.50" height="59.93" fill="#111"/>
<line x1="271.00" y1="640.13" x2="271.00" y2="647.47" stroke="#333" stroke-width="0.8"/>
<line x1="269.20" y1="640.13" x2="272.80" y2="640.13" stroke="#333" stroke-width="0.8"/>
<line x1="271.00" y1="707.40" x2="271.00" y2="709.40" stroke="#a8a8a8" stroke-width="1"/>
<text x="137.5" y="605.8" font-size="11.4" font-weight="bold" text-anchor="start" fill="#000"  >Alpha</text>
<path d="M157.5 638.7 V608.8 H226.3 V612.5" fill="none" stroke="#111" stroke-width="1.5"/>
<text x="226" y="613.3000000000001" font-size="15.4" font-weight="normal" text-anchor="middle" fill="#1a1a1a"  >**</text>
<rect x="136.50" y="715.50" width="157.00" height="111.00" fill="none" stroke="#a8a8a8" stroke-width="1"/>
<line x1="136.00" y1="826.50" x2="294.00" y2="826.50" stroke="#444" stroke-width="1.3"/>
<line x1="135.00" y1="826.40" x2="136.50" y2="826.40" stroke="#b5b5b5" stroke-width="0.8"/>
<text transform="translate(132.4,830.032) scale(0.93,1)" font-size="11.2" font-weight="bold" text-anchor="end" fill="#000"  >0</text>
<line x1="135.00" y1="814.15" x2="136.50" y2="814.15" stroke="#b5b5b5" stroke-width="0.8"/>
<text transform="translate(132.4,817.652) scale(0.93,1)" font-size="11.2" font-weight="bold" text-anchor="end" fill="#000"  >20</text>
<line x1="135.00" y1="801.90" x2="136.50" y2="801.90" stroke="#b5b5b5" stroke-width="0.8"/>
<text transform="translate(132.4,805.272) scale(0.93,1)" font-size="11.2" font-weight="bold" text-anchor="end" fill="#000"  >40</text>
<line x1="135.00" y1="789.65" x2="136.50" y2="789.65" stroke="#b5b5b5" stroke-width="0.8"/>
<text transform="translate(132.4,792.892) scale(0.93,1)" font-size="11.2" font-weight="bold" text-anchor="end" fill="#000"  >60</text>
<line x1="135.00" y1="777.40" x2="136.50" y2="777.40" stroke="#b5b5b5" stroke-width="0.8"/>
<text transform="translate(132.4,780.5120000000001) scale(0.93,1)" font-size="11.2" font-weight="bold" text-anchor="end" fill="#000"  >80</text>
<line x1="135.00" y1="765.15" x2="136.50" y2="765.15" stroke="#b5b5b5" stroke-width="0.8"/>
<text transform="translate(132.4,768.1320000000001) scale(0.93,1)" font-size="11.2" font-weight="bold" text-anchor="end" fill="#000"  >100</text>
<line x1="135.00" y1="752.90" x2="136.50" y2="752.90" stroke="#b5b5b5" stroke-width="0.8"/>
<text transform="translate(132.4,755.7520000000001) scale(0.93,1)" font-size="11.2" font-weight="bold" text-anchor="end" fill="#000"  >120</text>
<line x1="135.00" y1="740.65" x2="136.50" y2="740.65" stroke="#b5b5b5" stroke-width="0.8"/>
<text transform="translate(132.4,743.3720000000001) scale(0.93,1)" font-size="11.2" font-weight="bold" text-anchor="end" fill="#000"  >140</text>
<line x1="135.00" y1="728.40" x2="136.50" y2="728.40" stroke="#b5b5b5" stroke-width="0.8"/>
<text transform="translate(132.4,730.9920000000001) scale(0.93,1)" font-size="11.2" font-weight="bold" text-anchor="end" fill="#000"  >160</text>
<rect x="152.00" y="765.15" width="13.50" height="61.25" fill="#111"/>
<line x1="158.75" y1="760.25" x2="158.75" y2="765.15" stroke="#333" stroke-width="0.8"/>
<line x1="156.95" y1="760.25" x2="160.55" y2="760.25" stroke="#333" stroke-width="0.8"/>
<line x1="158.75" y1="826.40" x2="158.75" y2="828.40" stroke="#a8a8a8" stroke-width="1"/>
<rect x="174.45" y="737.59" width="13.50" height="88.81" fill="#111"/>
<line x1="181.20" y1="736.67" x2="181.20" y2="737.59" stroke="#333" stroke-width="0.8"/>
<line x1="179.40" y1="736.67" x2="183.00" y2="736.67" stroke="#333" stroke-width="0.8"/>
<line x1="181.20" y1="826.40" x2="181.20" y2="828.40" stroke="#a8a8a8" stroke-width="1"/>
<rect x="196.90" y="741.26" width="13.50" height="85.14" fill="#111"/>
<line x1="203.65" y1="738.81" x2="203.65" y2="741.26" stroke="#333" stroke-width="0.8"/>
<line x1="201.85" y1="738.81" x2="205.45" y2="738.81" stroke="#333" stroke-width="0.8"/>
<line x1="203.65" y1="826.40" x2="203.65" y2="828.40" stroke="#a8a8a8" stroke-width="1"/>
<rect x="219.35" y="735.75" width="13.50" height="90.65" fill="#111"/>
<line x1="226.10" y1="731.46" x2="226.10" y2="735.75" stroke="#333" stroke-width="0.8"/>
<line x1="224.30" y1="731.46" x2="227.90" y2="731.46" stroke="#333" stroke-width="0.8"/>
<line x1="226.10" y1="826.40" x2="226.10" y2="828.40" stroke="#a8a8a8" stroke-width="1"/>
<rect x="241.80" y="823.95" width="13.50" height="2.45" fill="#111"/>
<line x1="248.55" y1="817.21" x2="248.55" y2="823.95" stroke="#333" stroke-width="0.8"/>
<line x1="246.75" y1="817.21" x2="250.35" y2="817.21" stroke="#333" stroke-width="0.8"/>
<line x1="248.55" y1="826.40" x2="248.55" y2="828.40" stroke="#a8a8a8" stroke-width="1"/>
<rect x="264.25" y="770.05" width="13.50" height="56.35" fill="#111"/>
<line x1="271.00" y1="765.15" x2="271.00" y2="770.05" stroke="#333" stroke-width="0.8"/>
<line x1="269.20" y1="765.15" x2="272.80" y2="765.15" stroke="#333" stroke-width="0.8"/>
<line x1="271.00" y1="826.40" x2="271.00" y2="828.40" stroke="#a8a8a8" stroke-width="1"/>
<text transform="translate(137.5,724.5) scale(1.035,1)" font-size="11.4" font-weight="bold" text-anchor="start" fill="#000"  >Lysosome</text>
<path d="M157.5 757.5 V727.5 H226.3 V731" fill="none" stroke="#111" stroke-width="1.5"/>
<text x="226" y="732.8000000000001" font-size="15.4" font-weight="normal" text-anchor="middle" fill="#1a1a1a"  >**</text>
<text transform="translate(106.7,652.5) rotate(-90) scale(1,1)" font-size="14.1" font-weight="bold" text-anchor="middle" fill="#000" >Relative Secretion (% of control)</text>
<text transform="translate(138.6,843.6) scale(0.975,1)" font-size="12.4" font-weight="bold" text-anchor="end" fill="#000"  >Ca<tspan font-size="6.4" dy="-5.4">2+</tspan></text>
<text transform="translate(138.6,859.9) scale(0.975,1)" font-size="12.4" font-weight="bold" text-anchor="end" fill="#000"  >FL Munc13-4 (<tspan font-weight="normal">&#956;</tspan>M)</text>
<line x1="153.90" y1="840.60" x2="160.10" y2="840.60" stroke="#111" stroke-width="1.6"/>
<line x1="157.00" y1="837.50" x2="157.00" y2="843.70" stroke="#111" stroke-width="1.6"/>
<line x1="176.40" y1="840.60" x2="182.60" y2="840.60" stroke="#111" stroke-width="1.6"/>
<line x1="179.50" y1="837.50" x2="179.50" y2="843.70" stroke="#111" stroke-width="1.6"/>
<line x1="201.90" y1="840.60" x2="208.10" y2="840.60" stroke="#111" stroke-width="1.6"/>
<line x1="205.00" y1="837.50" x2="205.00" y2="843.70" stroke="#111" stroke-width="1.6"/>
<line x1="224.40" y1="840.60" x2="230.60" y2="840.60" stroke="#111" stroke-width="1.6"/>
<line x1="227.50" y1="837.50" x2="227.50" y2="843.70" stroke="#111" stroke-width="1.6"/>
<line x1="247.00" y1="842.00" x2="250.60" y2="842.00" stroke="#111" stroke-width="1.6"/>
<line x1="268.20" y1="840.60" x2="274.40" y2="840.60" stroke="#111" stroke-width="1.6"/>
<line x1="271.30" y1="837.50" x2="271.30" y2="843.70" stroke="#111" stroke-width="1.6"/>
<text transform="translate(156.8,860.3) scale(0.965,1)" font-size="12.3" font-weight="bold" text-anchor="middle" fill="#000"  >0</text>
<text transform="translate(179.0,860.3) scale(0.965,1)" font-size="12.3" font-weight="bold" text-anchor="middle" fill="#000"  >0.04</text>
<text transform="translate(204.6,860.3) scale(0.965,1)" font-size="12.3" font-weight="bold" text-anchor="middle" fill="#000"  >0.31</text>
<text transform="translate(228.2,860.3) scale(0.965,1)" font-size="12.3" font-weight="bold" text-anchor="middle" fill="#000"  >2.5</text>
<text transform="translate(249.4,860.3) scale(0.965,1)" font-size="12.3" font-weight="bold" text-anchor="middle" fill="#000"  >2.5</text>
<text transform="translate(275.8,860.3) scale(0.965,1)" font-size="12.3" font-weight="bold" text-anchor="middle" fill="#000"  >2.5b</text>
<rect x="90.80" y="869.80" width="198.00" height="15.40" fill="#fff" stroke="#111" stroke-width="1.6"/>
<rect x="114.00" y="869.80" width="18.70" height="15.80" fill="#111"/>
<text transform="translate(123.0,881.7) scale(0.93,1)" font-size="9.6" font-weight="bold" text-anchor="middle" fill="#fff"  >C2A</text>
<rect x="188.80" y="870.40" width="22.60" height="14.60" fill="#858585" stroke="#3a3a3a" stroke-width="0.8"/>
<text transform="translate(200.2,882.3) scale(0.88,1)" font-size="11.4" font-weight="bold" text-anchor="middle" fill="#222"  >MHD</text>
<rect x="237.70" y="870.40" width="23.10" height="14.60" fill="#858585" stroke="#3a3a3a" stroke-width="0.8"/>
<text transform="translate(249.3,882.3) scale(0.88,1)" font-size="11.4" font-weight="bold" text-anchor="middle" fill="#222"  >MHD</text>
<rect x="263.60" y="869.80" width="19.20" height="15.80" fill="#111"/>
<text transform="translate(273.2,881.7) scale(0.93,1)" font-size="9.6" font-weight="bold" text-anchor="middle" fill="#fff"  >C2B</text>
<rect x="351.50" y="475.50" width="158.00" height="111.00" fill="none" stroke="#a8a8a8" stroke-width="1"/>
<line x1="350.00" y1="586.80" x2="351.50" y2="586.80" stroke="#b5b5b5" stroke-width="0.8"/>
<text transform="translate(347,590.584) scale(0.94,1)" font-size="11.9" font-weight="bold" text-anchor="end" fill="#000"  >0</text>
<line x1="350.00" y1="568.42" x2="351.50" y2="568.42" stroke="#b5b5b5" stroke-width="0.8"/>
<text transform="translate(347,572.3439999999999) scale(0.94,1)" font-size="11.9" font-weight="bold" text-anchor="end" fill="#000"  >20</text>
<line x1="350.00" y1="550.04" x2="351.50" y2="550.04" stroke="#b5b5b5" stroke-width="0.8"/>
<text transform="translate(347,554.1039999999999) scale(0.94,1)" font-size="11.9" font-weight="bold" text-anchor="end" fill="#000"  >40</text>
<line x1="350.00" y1="531.66" x2="351.50" y2="531.66" stroke="#b5b5b5" stroke-width="0.8"/>
<text transform="translate(347,535.8639999999999) scale(0.94,1)" font-size="11.9" font-weight="bold" text-anchor="end" fill="#000"  >60</text>
<line x1="350.00" y1="513.28" x2="351.50" y2="513.28" stroke="#b5b5b5" stroke-width="0.8"/>
<text transform="translate(347,517.6239999999999) scale(0.94,1)" font-size="11.9" font-weight="bold" text-anchor="end" fill="#000"  >80</text>
<line x1="350.00" y1="494.90" x2="351.50" y2="494.90" stroke="#b5b5b5" stroke-width="0.8"/>
<text transform="translate(347,499.38399999999996) scale(0.94,1)" font-size="11.9" font-weight="bold" text-anchor="end" fill="#000"  >100</text>
<rect x="367.80" y="494.90" width="13.40" height="91.90" fill="#111"/>
<line x1="374.50" y1="586.80" x2="374.50" y2="588.80" stroke="#a8a8a8" stroke-width="1"/>
<rect x="390.20" y="554.63" width="13.40" height="32.16" fill="#111"/>
<line x1="396.90" y1="544.53" x2="396.90" y2="554.63" stroke="#8a8a8a" stroke-width="0.8"/>
<line x1="395.10" y1="544.53" x2="398.70" y2="544.53" stroke="#8a8a8a" stroke-width="0.8"/>
<line x1="396.90" y1="586.80" x2="396.90" y2="588.80" stroke="#a8a8a8" stroke-width="1"/>
<rect x="412.60" y="577.61" width="13.40" height="9.19" fill="#111"/>
<line x1="419.30" y1="575.31" x2="419.30" y2="577.61" stroke="#8a8a8a" stroke-width="0.8"/>
<line x1="417.50" y1="575.31" x2="421.10" y2="575.31" stroke="#8a8a8a" stroke-width="0.8"/>
<line x1="419.30" y1="586.80" x2="419.30" y2="588.80" stroke="#a8a8a8" stroke-width="1"/>
<rect x="435.00" y="580.64" width="13.40" height="6.16" fill="#111"/>
<line x1="441.70" y1="577.43" x2="441.70" y2="580.64" stroke="#8a8a8a" stroke-width="0.8"/>
<line x1="439.90" y1="577.43" x2="443.50" y2="577.43" stroke="#8a8a8a" stroke-width="0.8"/>
<line x1="441.70" y1="586.80" x2="441.70" y2="588.80" stroke="#a8a8a8" stroke-width="1"/>
<rect x="457.40" y="579.17" width="13.40" height="7.63" fill="#111"/>
<line x1="464.10" y1="575.50" x2="464.10" y2="579.17" stroke="#8a8a8a" stroke-width="0.8"/>
<line x1="462.30" y1="575.50" x2="465.90" y2="575.50" stroke="#8a8a8a" stroke-width="0.8"/>
<line x1="464.10" y1="586.80" x2="464.10" y2="588.80" stroke="#a8a8a8" stroke-width="1"/>
<rect x="479.80" y="512.36" width="13.40" height="74.44" fill="#111"/>
<line x1="486.50" y1="499.50" x2="486.50" y2="512.36" stroke="#8a8a8a" stroke-width="0.8"/>
<line x1="484.70" y1="499.50" x2="488.30" y2="499.50" stroke="#8a8a8a" stroke-width="0.8"/>
<line x1="486.50" y1="586.80" x2="486.50" y2="588.80" stroke="#a8a8a8" stroke-width="1"/>
<text transform="translate(353.6,488.8) scale(0.97,1)" font-size="12" font-weight="bold" text-anchor="start" fill="#000"  >DG</text>
<path d="M373.3 489.5 V486.3 H419.4 V553" fill="none" stroke="#111" stroke-width="1.5"/>
<text x="419.3" y="489.5" font-size="15.4" font-weight="normal" text-anchor="middle" fill="#1a1a1a"  >**</text>
<rect x="351.50" y="597.50" width="158.00" height="111.00" fill="none" stroke="#a8a8a8" stroke-width="1"/>
<line x1="350.00" y1="708.20" x2="351.50" y2="708.20" stroke="#b5b5b5" stroke-width="0.8"/>
<text transform="translate(347,712.884) scale(0.94,1)" font-size="11.9" font-weight="bold" text-anchor="end" fill="#000"  >0</text>
<line x1="350.00" y1="689.81" x2="351.50" y2="689.81" stroke="#b5b5b5" stroke-width="0.8"/>
<text transform="translate(347,694.604) scale(0.94,1)" font-size="11.9" font-weight="bold" text-anchor="end" fill="#000"  >20</text>
<line x1="350.00" y1="671.42" x2="351.50" y2="671.42" stroke="#b5b5b5" stroke-width="0.8"/>
<text transform="translate(347,676.324) scale(0.94,1)" font-size="11.9" font-weight="bold" text-anchor="end" fill="#000"  >40</text>
<line x1="350.00" y1="653.03" x2="351.50" y2="653.03" stroke="#b5b5b5" stroke-width="0.8"/>
<text transform="translate(347,658.044) scale(0.94,1)" font-size="11.9" font-weight="bold" text-anchor="end" fill="#000"  >60</text>
<line x1="350.00" y1="634.64" x2="351.50" y2="634.64" stroke="#b5b5b5" stroke-width="0.8"/>
<text transform="translate(347,639.764) scale(0.94,1)" font-size="11.9" font-weight="bold" text-anchor="end" fill="#000"  >80</text>
<line x1="350.00" y1="616.25" x2="351.50" y2="616.25" stroke="#b5b5b5" stroke-width="0.8"/>
<text transform="translate(347,621.484) scale(0.94,1)" font-size="11.9" font-weight="bold" text-anchor="end" fill="#000"  >100</text>
<rect x="367.80" y="616.25" width="13.40" height="91.95" fill="#111"/>
<line x1="374.50" y1="708.20" x2="374.50" y2="710.20" stroke="#a8a8a8" stroke-width="1"/>
<rect x="390.20" y="668.20" width="13.40" height="40.00" fill="#111"/>
<line x1="396.90" y1="658.09" x2="396.90" y2="668.20" stroke="#8a8a8a" stroke-width="0.8"/>
<line x1="395.10" y1="658.09" x2="398.70" y2="658.09" stroke="#8a8a8a" stroke-width="0.8"/>
<line x1="396.90" y1="708.20" x2="396.90" y2="710.20" stroke="#a8a8a8" stroke-width="1"/>
<rect x="412.60" y="681.99" width="13.40" height="26.21" fill="#111"/>
<line x1="419.30" y1="671.42" x2="419.30" y2="681.99" stroke="#8a8a8a" stroke-width="0.8"/>
<line x1="417.50" y1="671.42" x2="421.10" y2="671.42" stroke="#8a8a8a" stroke-width="0.8"/>
<line x1="419.30" y1="708.20" x2="419.30" y2="710.20" stroke="#a8a8a8" stroke-width="1"/>
<rect x="435.00" y="690.27" width="13.40" height="17.93" fill="#111"/>
<line x1="441.70" y1="681.99" x2="441.70" y2="690.27" stroke="#8a8a8a" stroke-width="0.8"/>
<line x1="439.90" y1="681.99" x2="443.50" y2="681.99" stroke="#8a8a8a" stroke-width="0.8"/>
<line x1="441.70" y1="708.20" x2="441.70" y2="710.20" stroke="#a8a8a8" stroke-width="1"/>
<rect x="457.40" y="681.07" width="13.40" height="27.13" fill="#111"/>
<line x1="464.10" y1="676.94" x2="464.10" y2="681.07" stroke="#8a8a8a" stroke-width="0.8"/>
<line x1="462.30" y1="676.94" x2="465.90" y2="676.94" stroke="#8a8a8a" stroke-width="0.8"/>
<line x1="464.10" y1="708.20" x2="464.10" y2="710.20" stroke="#a8a8a8" stroke-width="1"/>
<rect x="479.80" y="627.28" width="13.40" height="80.92" fill="#111"/>
<line x1="486.50" y1="619.93" x2="486.50" y2="627.28" stroke="#8a8a8a" stroke-width="0.8"/>
<line x1="484.70" y1="619.93" x2="488.30" y2="619.93" stroke="#8a8a8a" stroke-width="0.8"/>
<line x1="486.50" y1="708.20" x2="486.50" y2="710.20" stroke="#a8a8a8" stroke-width="1"/>
<text transform="translate(351.8,609.2) scale(0.97,1)" font-size="12" font-weight="bold" text-anchor="start" fill="#000"  >Alpha</text>
<path d="M373.3 613.7 V609.3 H419.4 V668.7" fill="none" stroke="#111" stroke-width="1.5"/>
<text x="419.3" y="609.5" font-size="15.4" font-weight="normal" text-anchor="middle" fill="#1a1a1a"  >**</text>
<rect x="351.50" y="718.50" width="158.00" height="111.00" fill="none" stroke="#a8a8a8" stroke-width="1"/>
<line x1="350.00" y1="829.10" x2="351.50" y2="829.10" stroke="#b5b5b5" stroke-width="0.8"/>
<text transform="translate(347,831.884) scale(0.94,1)" font-size="11.9" font-weight="bold" text-anchor="end" fill="#000"  >0</text>
<line x1="350.00" y1="810.68" x2="351.50" y2="810.68" stroke="#b5b5b5" stroke-width="0.8"/>
<text transform="translate(347,813.764) scale(0.94,1)" font-size="11.9" font-weight="bold" text-anchor="end" fill="#000"  >20</text>
<line x1="350.00" y1="792.26" x2="351.50" y2="792.26" stroke="#b5b5b5" stroke-width="0.8"/>
<text transform="translate(347,795.644) scale(0.94,1)" font-size="11.9" font-weight="bold" text-anchor="end" fill="#000"  >40</text>
<line x1="350.00" y1="773.84" x2="351.50" y2="773.84" stroke="#b5b5b5" stroke-width="0.8"/>
<text transform="translate(347,777.524) scale(0.94,1)" font-size="11.9" font-weight="bold" text-anchor="end" fill="#000"  >60</text>
<line x1="350.00" y1="755.42" x2="351.50" y2="755.42" stroke="#b5b5b5" stroke-width="0.8"/>
<text transform="translate(347,759.404) scale(0.94,1)" font-size="11.9" font-weight="bold" text-anchor="end" fill="#000"  >80</text>
<line x1="350.00" y1="737.00" x2="351.50" y2="737.00" stroke="#b5b5b5" stroke-width="0.8"/>
<text transform="translate(347,741.284) scale(0.94,1)" font-size="11.9" font-weight="bold" text-anchor="end" fill="#000"  >100</text>
<rect x="367.80" y="737.00" width="13.40" height="92.10" fill="#111"/>
<line x1="374.50" y1="829.10" x2="374.50" y2="831.10" stroke="#a8a8a8" stroke-width="1"/>
<rect x="390.20" y="744.37" width="13.40" height="84.73" fill="#111"/>
<line x1="396.90" y1="733.78" x2="396.90" y2="744.37" stroke="#8a8a8a" stroke-width="0.8"/>
<line x1="395.10" y1="733.78" x2="398.70" y2="733.78" stroke="#8a8a8a" stroke-width="0.8"/>
<line x1="396.90" y1="829.10" x2="396.90" y2="831.10" stroke="#a8a8a8" stroke-width="1"/>
<rect x="412.60" y="798.71" width="13.40" height="30.39" fill="#111"/>
<line x1="419.30" y1="796.40" x2="419.30" y2="798.71" stroke="#8a8a8a" stroke-width="0.8"/>
<line x1="417.50" y1="796.40" x2="421.10" y2="796.40" stroke="#8a8a8a" stroke-width="0.8"/>
<line x1="419.30" y1="829.10" x2="419.30" y2="831.10" stroke="#a8a8a8" stroke-width="1"/>
<rect x="435.00" y="793.18" width="13.40" height="35.92" fill="#111"/>
<line x1="441.70" y1="783.05" x2="441.70" y2="793.18" stroke="#8a8a8a" stroke-width="0.8"/>
<line x1="439.90" y1="783.05" x2="443.50" y2="783.05" stroke="#8a8a8a" stroke-width="0.8"/>
<line x1="441.70" y1="829.10" x2="441.70" y2="831.10" stroke="#a8a8a8" stroke-width="1"/>
<rect x="457.40" y="793.18" width="13.40" height="35.92" fill="#111"/>
<line x1="464.10" y1="789.96" x2="464.10" y2="793.18" stroke="#8a8a8a" stroke-width="0.8"/>
<line x1="462.30" y1="789.96" x2="465.90" y2="789.96" stroke="#8a8a8a" stroke-width="0.8"/>
<line x1="464.10" y1="829.10" x2="464.10" y2="831.10" stroke="#a8a8a8" stroke-width="1"/>
<rect x="479.80" y="727.79" width="13.40" height="101.31" fill="#111"/>
<line x1="486.50" y1="726.41" x2="486.50" y2="727.79" stroke="#8a8a8a" stroke-width="0.8"/>
<line x1="484.70" y1="726.41" x2="488.30" y2="726.41" stroke="#8a8a8a" stroke-width="0.8"/>
<line x1="486.50" y1="829.10" x2="486.50" y2="831.10" stroke="#a8a8a8" stroke-width="1"/>
<text transform="translate(352.3,728.8) scale(0.97,1)" font-size="12" font-weight="bold" text-anchor="start" fill="#000"  >Lysosome</text>
<path d="M373.3 733.7 V730 H419.4 V788.7" fill="none" stroke="#111" stroke-width="1.5"/>
<text x="419.6" y="734.6" font-size="15.4" font-weight="normal" text-anchor="middle" fill="#1a1a1a"  >**</text>
<text transform="translate(323.0,660) rotate(-90) scale(0.97,1)" font-size="15" font-weight="bold" text-anchor="middle" fill="#000" >Relative Secretion (% of control)</text>
<text transform="translate(373.8,841.5) scale(0.92,1)" font-size="11.6" font-weight="bold" text-anchor="middle" fill="#000"  >0</text>
<text transform="translate(396.3,841.5) scale(0.92,1)" font-size="11.6" font-weight="bold" text-anchor="middle" fill="#000"  >0.31</text>
<text transform="translate(418,841.5) scale(0.92,1)" font-size="11.6" font-weight="bold" text-anchor="middle" fill="#000"  >0.62</text>
<text transform="translate(441.4,841.5) scale(0.92,1)" font-size="11.6" font-weight="bold" text-anchor="middle" fill="#000"  >1.25</text>
<text transform="translate(468.2,841.5) scale(0.92,1)" font-size="11.6" font-weight="bold" text-anchor="middle" fill="#000"  >2.5</text>
<text transform="translate(493.1,841.5) scale(0.92,1)" font-size="11.6" font-weight="bold" text-anchor="middle" fill="#000"  >2.5b</text>
<text x="434.5" y="856.8" font-size="14" font-weight="bold" text-anchor="middle"><tspan font-weight="normal">&#916;</tspan>C2B <tspan font-weight="normal">(&#956;</tspan>M<tspan font-weight="normal">)</tspan></text>
<rect x="344.20" y="869.60" width="173.80" height="15.60" fill="#fff" stroke="#111" stroke-width="1.6"/>
<rect x="366.50" y="869.60" width="19.40" height="16.00" fill="#111"/>
<text transform="translate(376.2,881.6) scale(0.93,1)" font-size="9.6" font-weight="bold" text-anchor="middle" fill="#fff"  >C2A</text>
<rect x="441.40" y="870.20" width="24.70" height="14.80" fill="#858585" stroke="#3a3a3a" stroke-width="0.8"/>
<text transform="translate(453.8,882.3) scale(0.88,1)" font-size="11.4" font-weight="bold" text-anchor="middle" fill="#222"  >MHD</text>
<rect x="490.70" y="870.20" width="25.40" height="14.80" fill="#858585" stroke="#3a3a3a" stroke-width="0.8"/>
<text transform="translate(503.2,882.3) scale(0.88,1)" font-size="11.4" font-weight="bold" text-anchor="middle" fill="#222"  >MHD</text>
</svg>
</body></html>
